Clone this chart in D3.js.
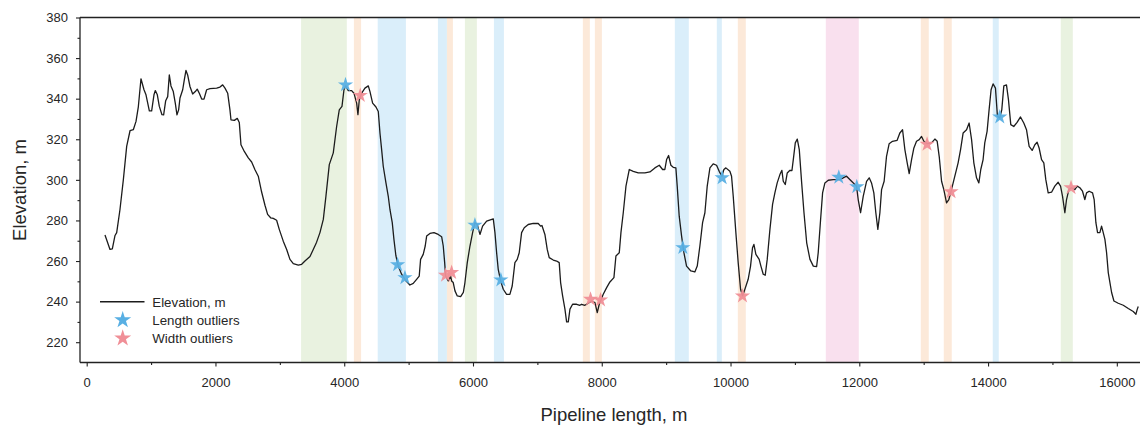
<!DOCTYPE html>
<html>
<head>
<meta charset="utf-8">
<script src="https://cdn.jsdelivr.net/npm/d3@7"></script>
<style>
  html, body { margin: 0; padding: 0; background: #fff; }
  svg { display: block; font-family: "Liberation Sans", Arial, sans-serif; }
</style>
</head>
<body>
<svg id="chart" width="1140" height="425"></svg>
<script>
// ---------------- DATA ----------------
const distance = [284,362,398,440,466,517,569,621,673,724,766,802,843,890,921,973,1009,1045,1066,1097,1128,1169,1195,1227,1258,1283,1309,1345,1376,1402,1428,1449,1491,1516,1542,1568,1604,1646,1687,1717,1749,1786,1822,1863,1915,2019,2070,2112,2148,2190,2225,2241,2293,2339,2370,2396,2448,2510,2562,2614,2665,2717,2769,2810,2857,2898,2950,2991,3053,3106,3157,3209,3287,3339,3390,3468,3519,3571,3623,3675,3716,3768,3830,3882,3923,3965,3996,4022,4063,4115,4151,4193,4213,4234,4271,4322,4374,4400,4441,4493,4529,4555,4581,4606,4648,4684,4710,4746,4772,4803,4839,4891,4958,5020,5072,5124,5165,5186,5227,5258,5280,5331,5394,5460,5513,5538,5560,5575,5616,5653,5668,5693,5720,5756,5808,5850,5875,5911,5953,5994,6030,6066,6108,6149,6212,6315,6341,6367,6392,6429,6470,6522,6573,6609,6651,6687,6718,6755,6796,6858,6936,7013,7050,7071,7117,7153,7184,7247,7299,7339,7361,7392,7428,7454,7480,7506,7547,7610,7661,7686,7738,7790,7842,7894,7930,7961,8023,8076,8127,8189,8220,8272,8298,8334,8376,8427,8489,8567,8670,8748,8825,8893,8945,8980,9007,9038,9074,9110,9151,9172,9203,9240,9276,9317,9384,9446,9483,9524,9566,9602,9638,9680,9731,9783,9824,9866,9897,9928,9990,10016,10042,10083,10119,10156,10187,10223,10274,10311,10342,10363,10394,10445,10472,10508,10539,10570,10612,10653,10689,10725,10767,10798,10819,10850,10881,10923,10954,10975,11006,11037,11068,11105,11141,11183,11234,11286,11337,11362,11399,11430,11466,11518,11595,11698,11802,11880,11957,11983,12020,12061,12113,12154,12190,12226,12257,12288,12320,12346,12386,12423,12464,12516,12588,12630,12672,12708,12744,12775,12812,12848,12889,12931,12967,13003,13054,13122,13174,13210,13241,13278,13313,13355,13391,13432,13484,13535,13573,13613,13666,13706,13744,13779,13821,13857,13887,13923,13949,13985,14016,14047,14078,14115,14146,14182,14213,14245,14286,14317,14353,14399,14451,14504,14555,14597,14638,14685,14727,14762,14793,14831,14866,14897,14934,14986,15037,15089,15126,15157,15193,15219,15255,15297,15348,15384,15426,15467,15503,15530,15570,15623,15648,15675,15701,15737,15763,15789,15815,15841,15867,15893,15919,15955,16022,16100,16178,16255,16297,16318,16333];
const elevation = [272.8,265.7,266,272.6,274,285.4,300,316.5,324.2,324.7,328.8,336,349.8,344.4,341.9,334,334,341.9,344,341.9,336.2,332.1,332,339,341,351.7,346.3,343.5,337.8,332,334.5,340.3,344.4,349.3,353.9,351.7,346,342.3,343.5,344.7,342.7,339.8,339.8,344.4,345,345.2,345.7,346.8,345.2,342.7,334.5,329.6,329.3,330.3,328.3,317.3,314,310.8,308.8,305,301.8,294,287.5,283,281.3,281,280.1,275.6,269.8,265.7,260.8,258.7,258,258.4,260,262.2,265.7,269.3,274,280.5,292,307.5,313.3,326.3,334.5,336.2,344.4,346.3,344,344,342.7,337.8,332.1,339.5,342.7,345.2,346.3,343.5,337.8,335.9,333.7,323.1,314.9,306.7,298.5,291.9,285.4,278.9,270.7,262.5,257.5,253.5,250.2,248.2,249,251,252.6,260.8,263.3,267.4,272.3,273.6,274,273.1,272,267.4,259.2,252.6,250.2,252.6,250.2,249.4,245.3,242.8,242.5,244.5,249.4,259.2,267.4,274,278.9,278,273.1,277.2,279.7,280.8,274,264.1,255.9,250.2,246.1,243.6,243.6,247.7,259.2,260.8,264.1,274,276.4,278,278.5,278.5,277.2,277.5,273.1,265.7,261.7,260.5,260,259.2,249.4,242.8,236.3,230,230,236.3,238.7,238.7,238.2,238.7,238.2,239.2,240.3,239.5,234.6,238.7,243.6,246.9,249.7,251.8,262.5,264.1,274,283.8,296.9,305.1,304.2,303.4,303.4,303.9,305.9,307.2,305.1,305.1,310,312,307.2,306.2,305.9,296.9,282.1,272.3,264.1,257.5,255.1,254.6,257.5,267.4,278.9,283.8,296.9,305.9,307.9,307.2,304.2,301.8,305.1,305.9,304.2,301.8,291.9,274,259.2,246.1,242.8,246.1,251,257.5,266.6,268.2,263.3,260.8,257.5,253.5,253,260.8,275.6,287.9,293.6,298.5,302.6,304.7,299.3,297.7,303.4,304.7,304.6,310,318.2,320.1,314.9,298.5,283.8,269,260.8,257.5,257.2,264.1,280.5,293.6,298.5,299.8,300.1,300.1,301.8,299.3,296.9,290.3,283.8,291.9,299.3,301,298.5,293.6,283.8,275.6,283.8,295.2,299.3,311.6,317.8,319,319.5,323.1,324.7,314.9,308.4,303.1,310,315.7,319,319.8,321.4,319,317.8,318.2,320.1,319,311.6,299.3,295.2,288.7,290.3,295.2,301.8,308.4,314.9,323.1,324.7,328,319.8,308.4,301,298.5,305.1,310,318.2,323.9,334.5,344.4,347.3,345.2,331.3,330.5,334.5,346.3,346.8,339.5,327.2,326.3,328.3,331,328,324.7,316.5,314.5,317.3,318.5,315.7,310,308.4,300.1,293.6,293.9,296.9,298.8,296.9,291.9,283.8,290.3,295.2,296.1,295.2,296.9,296.1,294.4,290.3,293.6,294.4,293.6,290.3,278.9,274,274,277.2,274,270.7,264.1,254.3,249.4,244.5,240.3,239.2,238.2,236.6,235.1,233.8,236.3,237.6];

const lengthOutlierX = [4020, 4829, 4943, 6030, 6433, 9259, 9870, 11682, 11961, 14182];
const lengthOutlierY = [346.8, 258.2, 251.8, 277.7, 250.7, 266.6, 301.0, 301.3, 296.6, 331.0];
const widthOutlierX = [4249, 5574, 5668, 7826, 7981, 10186, 13053, 13425, 15289];
const widthOutlierY = [341.6, 253.0, 254.3, 241.2, 240.8, 242.8, 317.5, 294.1, 296.1];

const bandStart = [3330, 4150, 4520, 5455, 5595, 5874, 6325, 7706, 7893, 9135, 9787, 10113, 11480, 12955, 13312, 14073, 15129];
const bandEnd   = [4040, 4262, 4958, 5595, 5688, 6060, 6480, 7815, 8002, 9352, 9865, 10237, 11992, 13079, 13436, 14166, 15316];
const bandType  = ["green","orange","blue","blue","orange","green","blue","orange","orange","blue","blue","orange","pink","orange","orange","blue","green"];

const xTicks = [0, 2000, 4000, 6000, 8000, 10000, 12000, 14000, 16000];
const yTicks = [220, 240, 260, 280, 300, 320, 340, 360, 380];
const legendLabels = ["Elevation, m", "Length outliers", "Width outliers"];

// ---------------- STYLE / LAYOUT ----------------
const plotLeft = 80, plotRight = 1140, plotTop = 17.5, plotBottom = 362.5;
const bandColor = { green: "#e9f2e0", orange: "#fce9d9", blue: "#daeefa", pink: "#f9e0ee" };
const blueStar = "#58afe3", pinkStar = "#f08f97";
const axisColor = "#222";
const textColor = "#262626";

const svg = d3.select("#chart");
const x = d3.scaleLinear().domain([-104, 16360]).range([plotLeft, plotRight]);
const y = d3.scaleLinear().domain([210, 380]).range([plotBottom, plotTop]);

svg.append("defs").append("clipPath").attr("id", "clip")
  .append("rect").attr("x", plotLeft).attr("y", plotTop)
  .attr("width", plotRight - plotLeft).attr("height", plotBottom - plotTop);

const plot = svg.append("g").attr("clip-path", "url(#clip)");

// bands
plot.selectAll("rect.band").data(bandStart.map((s, i) => ({ s, e: bandEnd[i], t: bandType[i] })))
  .join("rect").attr("class", "band")
  .attr("x", d => x(d.s)).attr("width", d => x(d.e) - x(d.s))
  .attr("y", plotTop).attr("height", plotBottom - plotTop)
  .attr("fill", d => bandColor[d.t]);

// line
const pts = distance.map((d, i) => [d, elevation[i]]);
plot.append("path").datum(pts)
  .attr("fill", "none").attr("stroke", "#1c1c1c").attr("stroke-width", 1.3)
  .attr("stroke-linejoin", "round")
  .attr("d", d3.line().x(d => x(d[0])).y(d => y(d[1])));

// stars
const star = d3.symbol().type(d3.symbolStar).size(72);
plot.selectAll("path.ls").data(lengthOutlierX.map((d, i) => [d, lengthOutlierY[i]]))
  .join("path").attr("class", "ls")
  .attr("transform", d => `translate(${x(d[0])},${y(d[1])})`)
  .attr("d", star).attr("fill", blueStar).attr("fill-opacity", 0.95);
plot.selectAll("path.ws").data(widthOutlierX.map((d, i) => [d, widthOutlierY[i]]))
  .join("path").attr("class", "ws")
  .attr("transform", d => `translate(${x(d[0])},${y(d[1])})`)
  .attr("d", star).attr("fill", pinkStar).attr("fill-opacity", 0.95);

// axes
const xAxis = svg.append("g").attr("transform", `translate(0,${plotBottom})`)
  .call(d3.axisBottom(x).tickValues(xTicks).tickSize(4).tickPadding(11).tickFormat(d3.format("d")));
const xMinor = svg.append("g").attr("transform", `translate(0,${plotBottom})`)
  .call(d3.axisBottom(x).tickValues(d3.range(1000, 16001, 2000)).tickSize(2.5).tickFormat(""));
const yAxis = svg.append("g").attr("transform", `translate(${plotLeft},0)`)
  .call(d3.axisLeft(y).tickValues(yTicks).tickSize(4).tickPadding(8).tickFormat(d3.format("d")));
const yMinor = svg.append("g").attr("transform", `translate(${plotLeft},0)`)
  .call(d3.axisLeft(y).tickValues(d3.range(230, 380, 20)).tickSize(2.5).tickFormat(""));

[xAxis, xMinor, yAxis, yMinor].forEach(g => {
  g.select(".domain").remove();
  g.selectAll(".tick line").attr("stroke", axisColor).attr("stroke-width", 1.1);
  g.selectAll(".tick text").attr("fill", textColor).style("font-size", "13px")
    .style("font-family", '"Liberation Sans", Arial, sans-serif');
});

// spines: left, bottom, top
svg.append("line").attr("x1", plotLeft).attr("x2", plotLeft).attr("y1", plotTop).attr("y2", plotBottom)
  .attr("stroke", axisColor).attr("stroke-width", 1.3);
svg.append("line").attr("x1", plotLeft).attr("x2", plotRight).attr("y1", plotBottom).attr("y2", plotBottom)
  .attr("stroke", axisColor).attr("stroke-width", 1.3);
svg.append("line").attr("x1", plotLeft).attr("x2", plotRight).attr("y1", plotTop).attr("y2", plotTop)
  .attr("stroke", axisColor).attr("stroke-width", 1.3);

// axis titles
svg.append("text").attr("x", 614).attr("y", 421).attr("text-anchor", "middle")
  .attr("fill", textColor).style("font-size", "18.5px").text("Pipeline length, m");
svg.append("text").attr("transform", `translate(26,${(plotTop + plotBottom) / 2}) rotate(-90)`)
  .attr("text-anchor", "middle").attr("fill", textColor).style("font-size", "18.5px").text("Elevation, m");

// legend
const lg = svg.append("g");
lg.append("line").attr("x1", 100).attr("x2", 144.5).attr("y1", 301.7).attr("y2", 301.7)
  .attr("stroke", "#1c1c1c").attr("stroke-width", 1.4);
const legendStar = d3.symbol().type(d3.symbolStar).size(90);
lg.append("path").attr("transform", "translate(122.7,320)").attr("d", legendStar).attr("fill", blueStar);
lg.append("path").attr("transform", "translate(122.7,338.3)").attr("d", legendStar).attr("fill", pinkStar);
lg.selectAll("text").data(legendLabels).join("text")
  .attr("x", 152.3).attr("y", (d, i) => 306.5 + i * 18.2)
  .attr("fill", textColor).style("font-size", "13.3px").text(d => d);
</script>
</body>
</html>
